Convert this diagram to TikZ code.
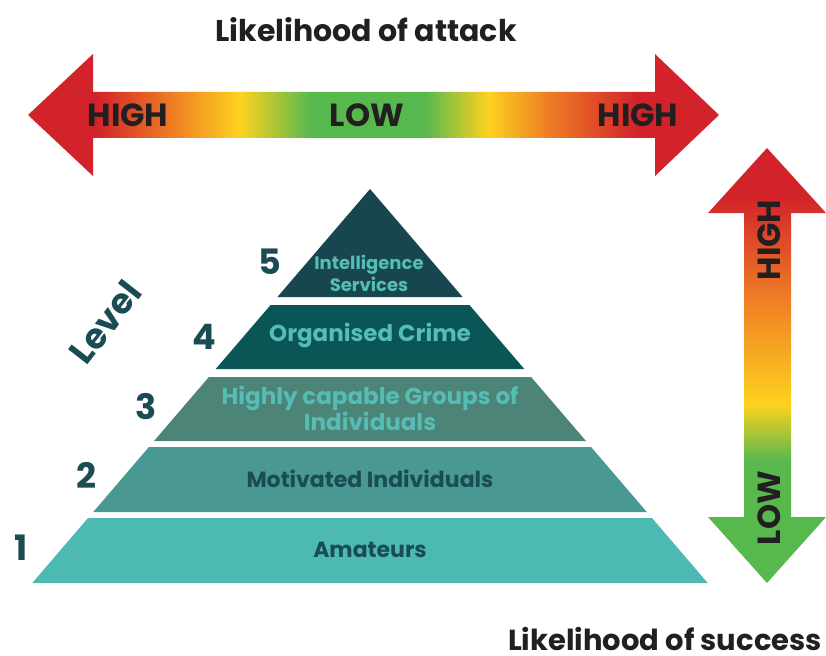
\documentclass[tikz,border=0pt]{standalone}
\usepackage{fontspec}
\setmainfont{Poppins}
\usetikzlibrary{positioning}

\definecolor{arrowred}{HTML}{D2232A}
\definecolor{arroworange}{HTML}{EF7F24}
\definecolor{arrowyellow}{HTML}{FDD21F}
\definecolor{arrowgreen}{HTML}{57B84E}
\definecolor{lvlfive}{HTML}{17464F}
\definecolor{lvlfour}{HTML}{0A5657}
\definecolor{lvlthree}{HTML}{4D8478}
\definecolor{lvltwo}{HTML}{4A9892}
\definecolor{lvlone}{HTML}{4DB9B3}
\definecolor{lighttext}{HTML}{55BDB5}
\definecolor{darkteal}{HTML}{1A4C54}
\definecolor{inkblack}{HTML}{231F20}

% colour ramps of the two scale arrows (path box = 25bp..75bp)
\pgfdeclarehorizontalshading{attackbar}{100bp}{color(0bp)=(arrowred); color(30bp)=(arrowred);
  color(35.5bp)=(arroworange); color(40.3bp)=(arrowyellow); color(45.5bp)=(arrowgreen);
  color(53.7bp)=(arrowgreen); color(58.3bp)=(arrowyellow); color(62.5bp)=(arroworange);
  color(69bp)=(arrowred); color(100bp)=(arrowred)}
\pgfdeclareverticalshading{successbar}{100bp}{color(0bp)=(arrowgreen); color(39bp)=(arrowgreen);
  color(45.5bp)=(arrowyellow); color(57.5bp)=(arroworange); color(69.5bp)=(arrowred);
  color(100bp)=(arrowred)}

\begin{document}
\begin{tikzpicture}[x=1pt, y=-1pt,
    axislabel/.style={font=\bfseries\fontsize{30}{36}\selectfont, text=inkblack, inner sep=0pt},
    scaleword/.style={font=\bfseries\fontsize{32}{38}\selectfont, text=inkblack, inner sep=0pt},
    levelno/.style={font=\bfseries\fontsize{35}{42}\selectfont, text=darkteal, inner sep=0pt},
    bandtext/.style={font=\bfseries\fontsize{22}{25}\selectfont, align=center, inner sep=0pt}]
    \useasboundingbox (0,0) rectangle (826,655);

    % Likelihood of attack
    \node[axislabel] (attack) at (366,30) {Likelihood of attack};
    \shade[shading=attackbar] (28,115) -- (93,54) -- (93,92) -- (655,92) -- (655,54) -- (719,115)
      -- (655,176) -- (655,138) -- (93,138) -- (93,176) -- cycle;
    \node[scaleword] (highleft) at (128,115) {HIGH};
    \node[scaleword] (lowmid) at (367,115) {LOW};
    \node[scaleword] (highright) at (638,115) {HIGH};

    % Likelihood of success
    \shade[shading=successbar] (767,148) -- (826,213) -- (791,213) -- (791,517) -- (826,517) -- (767,583)
      -- (708,517) -- (744,517) -- (744,213) -- (708,213) -- cycle;
    \node[scaleword, rotate=90] (highup) at (769,240) {HIGH};
    \node[scaleword, rotate=90] (lowdown) at (769,508) {LOW};
    \node[axislabel, anchor=east, font=\bfseries\fontsize{29}{34}\selectfont] (success) at (822,639) {Likelihood of success};

    % Pyramid
    \fill[lvlfive]  (370,189) -- (462.6,297) -- (277.4,297) -- cycle;
    \fill[lvlfour]  (270.6,305) -- (469.4,305) -- (524.3,369) -- (215.7,369) -- cycle;
    \fill[lvlthree] (208.9,377) -- (531.1,377) -- (586.0,441) -- (154.0,441) -- cycle;
    \fill[lvltwo]   (148.9,447) -- (591.1,447) -- (646.8,512) -- (93.2,512) -- cycle;
    \fill[lvlone]   (88.0,518) -- (652.0,518) -- (707.7,583) -- (32.3,583) -- cycle;
    \node[bandtext, text=lighttext, font=\bfseries\fontsize{18}{22}\selectfont] (intel) at (369,273) {Intelligence\\Services};
    \node[bandtext, text=lighttext, font=\bfseries\fontsize{23}{26}\selectfont] (crime) at (370,335) {Organised Crime};
    \node[bandtext, text=lighttext, font=\bfseries\fontsize{23}{26}\selectfont] (groups) at (370,408) {Highly capable Groups of\\Individuals};
    \node[bandtext, text=darkteal] (motivated) at (370,479) {Motivated Individuals};
    \node[bandtext, text=darkteal] (amateurs) at (370,550) {Amateurs};

    % Level numbers
    \foreach \n/\x/\y in {5/270/262, 4/204/337, 3/146/407, 2/86/475, 1/21/548}
      \node[levelno] (no\n) at (\x,\y) {\n};
    \node[levelno, font=\bfseries\fontsize{35}{40}\selectfont, rotate=52] (level) at (105,322) {Level};
\end{tikzpicture}
\end{document}
